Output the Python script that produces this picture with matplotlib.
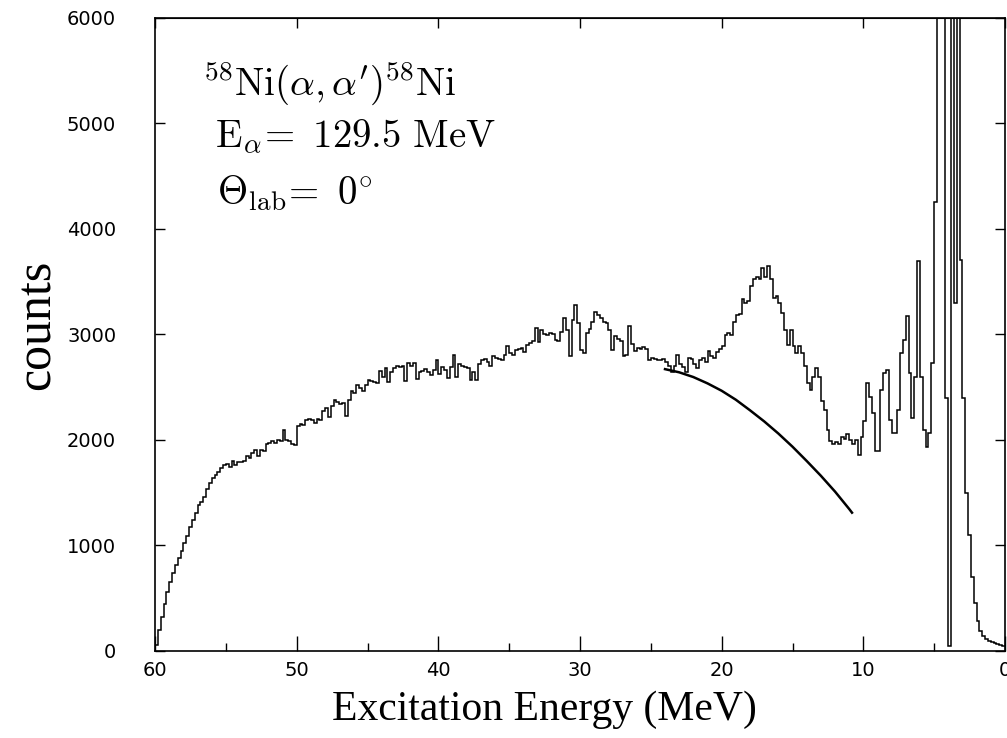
import matplotlib

matplotlib.use("Agg")
import matplotlib.pyplot as plt
import numpy as np
from matplotlib.ticker import MultipleLocator

plt.rcParams["mathtext.fontset"] = "cm"

BIN_WIDTH = 0.2  # MeV
E_START = 60.0

# counts per 0.2 MeV bin, from 60 MeV down to 0 MeV (one row = 2 MeV)
counts = [
    60, 200, 320, 440, 560, 650, 740, 810, 880, 950,              # 60-58
    1020, 1090, 1170, 1240, 1310, 1380, 1410, 1460, 1530, 1590,   # 58-56
    1640, 1670, 1700, 1730, 1760, 1770, 1740, 1800, 1760, 1790,   # 56-54
    1790, 1800, 1850, 1830, 1880, 1900, 1850, 1900, 1890, 1960,   # 54-52
    1970, 1990, 1970, 2000, 1990, 2090, 2000, 1990, 1960, 1950,   # 52-50
    2130, 2150, 2140, 2190, 2200, 2190, 2160, 2200, 2190, 2270,   # 50-48
    2300, 2220, 2320, 2380, 2360, 2340, 2350, 2230, 2380, 2460,   # 48-46
    2440, 2520, 2490, 2460, 2520, 2570, 2560, 2550, 2540, 2650,   # 46-44
    2600, 2680, 2550, 2640, 2680, 2700, 2690, 2700, 2560, 2730,   # 44-42
    2700, 2730, 2580, 2640, 2650, 2670, 2640, 2610, 2660, 2760,   # 42-40
    2620, 2690, 2660, 2590, 2690, 2800, 2600, 2720, 2700, 2690,   # 40-38
    2680, 2570, 2640, 2570, 2720, 2760, 2770, 2740, 2700, 2790,   # 38-36
    2775, 2770, 2760, 2800, 2885, 2820, 2800, 2850, 2860, 2870,   # 36-34
    2835, 2900, 2920, 2940, 3060, 2930, 3040, 3000, 2990, 3010,   # 34-32
    3000, 2950, 2940, 3020, 3150, 3040, 2790, 3140, 3280, 3110,   # 32-30
    2850, 2820, 3010, 3050, 3120, 3215, 3180, 3150, 3120, 3110,   # 30-28
    3040, 2850, 2980, 2960, 2940, 2790, 2800, 3075, 2910, 2840,   # 28-26
    2870, 2860, 2880, 2860, 2760, 2780, 2770, 2760, 2760, 2770,   # 26-24
    2740, 2700, 2640, 2700, 2805, 2720, 2690, 2640, 2775, 2770,   # 24-22
    2720, 2680, 2760, 2775, 2740, 2840, 2790, 2775, 2830, 2860,   # 22-20
    2885, 2995, 3010, 2990, 3120, 3180, 3190, 3330, 3300, 3320,   # 20-18
    3460, 3520, 3540, 3520, 3630, 3540, 3645, 3520, 3340, 3360,   # 18-16
    3300, 3200, 3040, 2900, 3040, 2885, 2820, 2885, 2820, 2700,   # 16-14
    2540, 2475, 2600, 2680, 2600, 2365, 2285, 2095, 1985, 1965,   # 14-12
    1980, 1960, 2030, 2010, 2060, 2000, 1965, 2000, 1860, 2030,   # 12-10
    2175, 2540, 2410, 2250, 1890, 1890, 2475, 2630, 2665, 2190,   # 10-8
    2065, 2065, 2285, 2825, 2950, 3170, 2630, 2205, 2600, 3690,   # 8-6
    2600, 2095, 1936, 2065, 2725, 4250, 9000, 12000, 8000, 2400,  # 6-4
    50, 9000, 3300, 9000, 3700, 2400, 1500, 1100, 700, 450,       # 4-2
    280, 190, 140, 115, 95, 85, 75, 65, 55, 45,                   # 2-0
]

# smooth background curve under the giant resonance
bg_energy = [24.0, 23.0, 22.0, 21.0, 20.0, 19.0, 18.0, 17.0, 16.0, 15.0, 14.0, 13.0, 12.0, 11.0, 10.8]
bg_counts = [2670, 2640, 2595, 2535, 2465, 2380, 2280, 2175, 2060, 1935, 1800, 1660, 1510, 1345, 1310]

x_ticks = [60, 50, 40, 30, 20, 10, 0]
y_ticks = [0, 1000, 2000, 3000, 4000, 5000, 6000]

fig = plt.figure(figsize=(10.07, 7.38), dpi=100)
ax = fig.add_axes([0.154, 0.118, 0.844, 0.858])

edges = E_START - BIN_WIDTH * np.arange(len(counts) + 1)
ax.stairs(np.array(counts[::-1], dtype=float), edges[::-1], baseline=None,
          color="black", lw=1.1)
ax.plot(bg_energy, bg_counts, color="black", lw=1.8)

ax.set_xlim(60, 0)
ax.set_ylim(0, 6000)
ax.set_xticks(x_ticks)
ax.set_yticks(y_ticks)
ax.xaxis.set_minor_locator(MultipleLocator(5))

for s in ax.spines.values():
    s.set_linewidth(1.2)

ax.tick_params(axis="x", which="major", direction="in", length=11, width=1.0,
               labelsize=14, pad=7)
ax.tick_params(axis="x", which="minor", direction="in", length=6, width=1.0)
ax.tick_params(axis="y", which="major", direction="in", length=7, width=1.0,
               labelsize=14, pad=28, right=True)

top = ax.secondary_xaxis("top")
top.set_xticks(x_ticks)
top.tick_params(direction="in", length=7, width=1.0, labeltop=False)

ax.set_xlabel("Excitation Energy (MeV)", family="Liberation Serif", fontsize=30)
ax.xaxis.set_label_coords(0.458, -0.063)
ax.xaxis.label.set_va("top")
fig.text(0.037, 0.56, "counts", family="Liberation Serif", fontsize=36,
         rotation=90, ha="center", va="center")

txt = dict(transform=ax.transAxes, ha="left", va="baseline", fontsize=28,
           color="black")
ax.text(0.056, 0.878, r"$^{58}\mathrm{Ni}(\alpha,\alpha')^{58}\mathrm{Ni}$", **txt)
ax.text(0.071, 0.795, r"$\mathrm{E}_{\alpha}\!=\ \mathrm{129.5\ MeV}$", **txt)
ax.text(0.073, 0.705, r"$\Theta_{\mathrm{lab}}\!=\ 0^{\circ}$", **txt)

fig.savefig("out.png", dpi=100)
